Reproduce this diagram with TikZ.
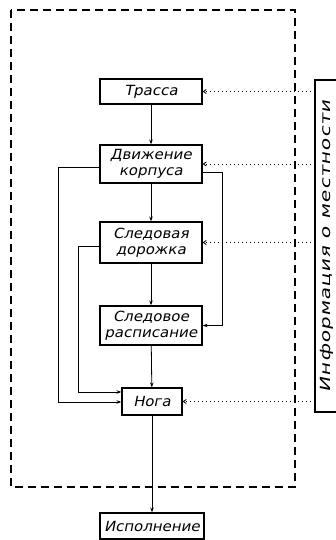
\documentclass[tikz,border=0pt]{standalone}
\usepackage{fontspec}
\newfontfamily\gost{DejaVu Sans}[FakeSlant=0.2,FakeStretch=1.07]
\newfontfamily\gostwide{DejaVu Sans}[FakeSlant=0.2,FakeStretch=1.45,LetterSpace=6]
\usetikzlibrary{arrows.meta}
\begin{document}
\begin{tikzpicture}[x=1pt,y=-1pt,
  box/.style={draw, line width=1.2pt, inner sep=0pt, align=center,
    font=\gost\fontsize{14}{16}\selectfont},
  conn/.style={line width=0.8pt, -{Stealth[length=5pt,width=3.5pt]}},
  dotconn/.style={line width=0.8pt, dash pattern=on 0.8pt off 3.2pt,
    -{Straight Barb[length=3pt,width=4pt]}},
  frame/.style={line width=1.6pt, dash pattern=on 8pt off 5pt}]
\useasboundingbox (0,0) rectangle (335,540);
\fill[white] (0,0) rectangle (335,540);
\draw[frame] (11,10) rectangle (295,487);

\node[box, minimum width=102pt, minimum height=25pt] (trassa) at (151,91.5) {Трасса};
\node[box, minimum width=102pt, minimum height=38pt] (dvizh) at (151,164) {Движение\\корпуса};
\node[box, minimum width=102pt, minimum height=41pt] (dor) at (151,242.5) {Следовая\\дорожка};
\node[box, minimum width=102pt, minimum height=39pt] (rasp) at (151,325.5) {Следовое\\расписание};
\node[box, minimum width=60pt, minimum height=27pt] (noga) at (152,401.5) {Нога};
\node[box, minimum width=104pt, minimum height=26pt] (isp) at (152,526) {Исполнение};
\node[box, minimum width=24pt, minimum height=332pt, font=\gostwide\fontsize{14}{16}\selectfont] (info) at (327,246)
  {\rotatebox{90}{Информация о местности}};

\draw[conn] (trassa) -- (dvizh);
\draw[conn] (dvizh) -- (dor);
\draw[conn] (dor) -- (rasp);
\draw[conn] (rasp) -- (noga);
\draw[conn] (noga) -- (isp);

\draw[conn] ([yshift=-3pt]dvizh.west) -- ++(-41,0) |- ([yshift=-0.5pt]noga.west);
\draw[conn] ([yshift=-3.5pt]dor.west) -- ++(-21,0) |- ([yshift=9.5pt]noga.west);
\draw[conn] ([yshift=-8pt]dvizh.east) -- ++(20,0) |- (rasp.east);

\draw[dotconn] (trassa.east -| info.west) -- (trassa.east);
\draw[dotconn] (dvizh.east -| info.west) -- (dvizh.east);
\draw[dotconn] (dor.east -| info.west) -- (dor.east);
\draw[dotconn] (noga.east -| info.west) -- (noga.east);
\end{tikzpicture}
\end{document}
